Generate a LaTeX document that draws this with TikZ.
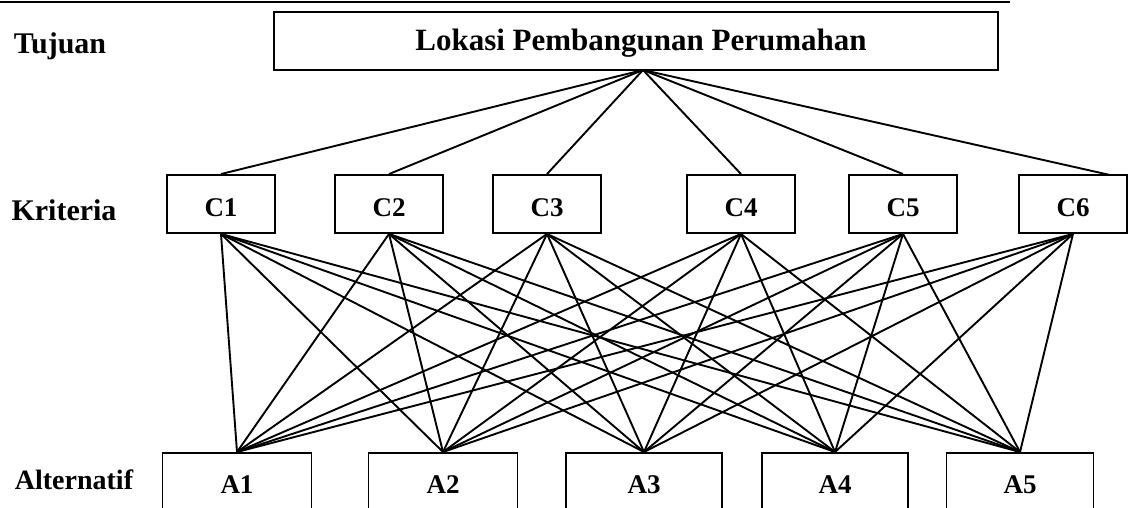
\documentclass[tikz,border=0pt]{standalone}
\usepackage{fontspec}
\setmainfont{Liberation Serif}
\begin{document}
\begin{tikzpicture}[x=1pt,y=-1pt,
  lw/.style={line width=1.9pt},
  box/.style={draw, lw, rectangle, inner sep=0pt, font=\fontsize{27}{32}\selectfont\bfseries},
  crit/.style={box, minimum width=108pt, minimum height=58pt, text height=24pt, text depth=0pt},
  alt/.style={box, minimum width=149pt, minimum height=66pt, anchor=north},
  lab/.style={font=\fontsize{30}{36}\selectfont\bfseries, inner sep=0pt},
  link/.style={lw}]
\path[use as bounding box, clip] (0,0) rectangle (1134,508);
% top rule
\coordinate (r0) at (0,2);
\coordinate (r1) at (1010,2);
\draw[line width=2.4pt] (r0) -- (r1);
% labels
\node[lab] (tuj) at (60,46) {Tujuan};
\node[lab] (kri) at (64,210) {Kriteria};
\node[lab, font=\fontsize{28}{34}\selectfont\bfseries] (alt) at (74,480) {Alternatif};
% goal
\node[box, font=\fontsize{31}{37}\selectfont\bfseries, minimum width=724pt, minimum height=58pt, text height=24pt, text depth=4pt] (goal) at (636,41) {\hspace*{10pt}Lokasi Pembangunan Perumahan};
\coordinate (gs) at (643,70);
% criteria
\node[crit] (C1) at (221,204) {C1};
\node[crit] (C2) at (389,204) {C2};
\node[crit] (C3) at (547,204) {C3};
\node[crit] (C4) at (741,204) {C4};
\node[crit] (C5) at (903,204) {C5};
\node[crit] (C6) at (1073,204) {C6};
\coordinate (c6t) at (1110,175);
% alternatives
\node[alt] (A1) at (237,452) {\raisebox{2pt}{A1}};
\node[alt] (A2) at (443,452) {\raisebox{2pt}{A2}};
\node[alt, minimum width=156pt] (A3) at (644,452) {\raisebox{2pt}{A3}};
\node[alt, minimum width=146pt] (A4) at (835,452) {\raisebox{2pt}{A4}};
\node[alt, minimum width=147pt] (A5) at (1020,452) {\raisebox{2pt}{A5}};
% goal links
\foreach \c in {C1,C2,C3,C4,C5}
  \draw[link] (gs) -- (\c.north);
\draw[link] (gs) -- (c6t);
% criteria-alternative links
\foreach \c in {C1,C2,C3,C4,C5,C6}
  \foreach \a in {A1,A2,A3,A4,A5}
    \draw[link] (\c.south) -- (\a.north);
\end{tikzpicture}
\end{document}
